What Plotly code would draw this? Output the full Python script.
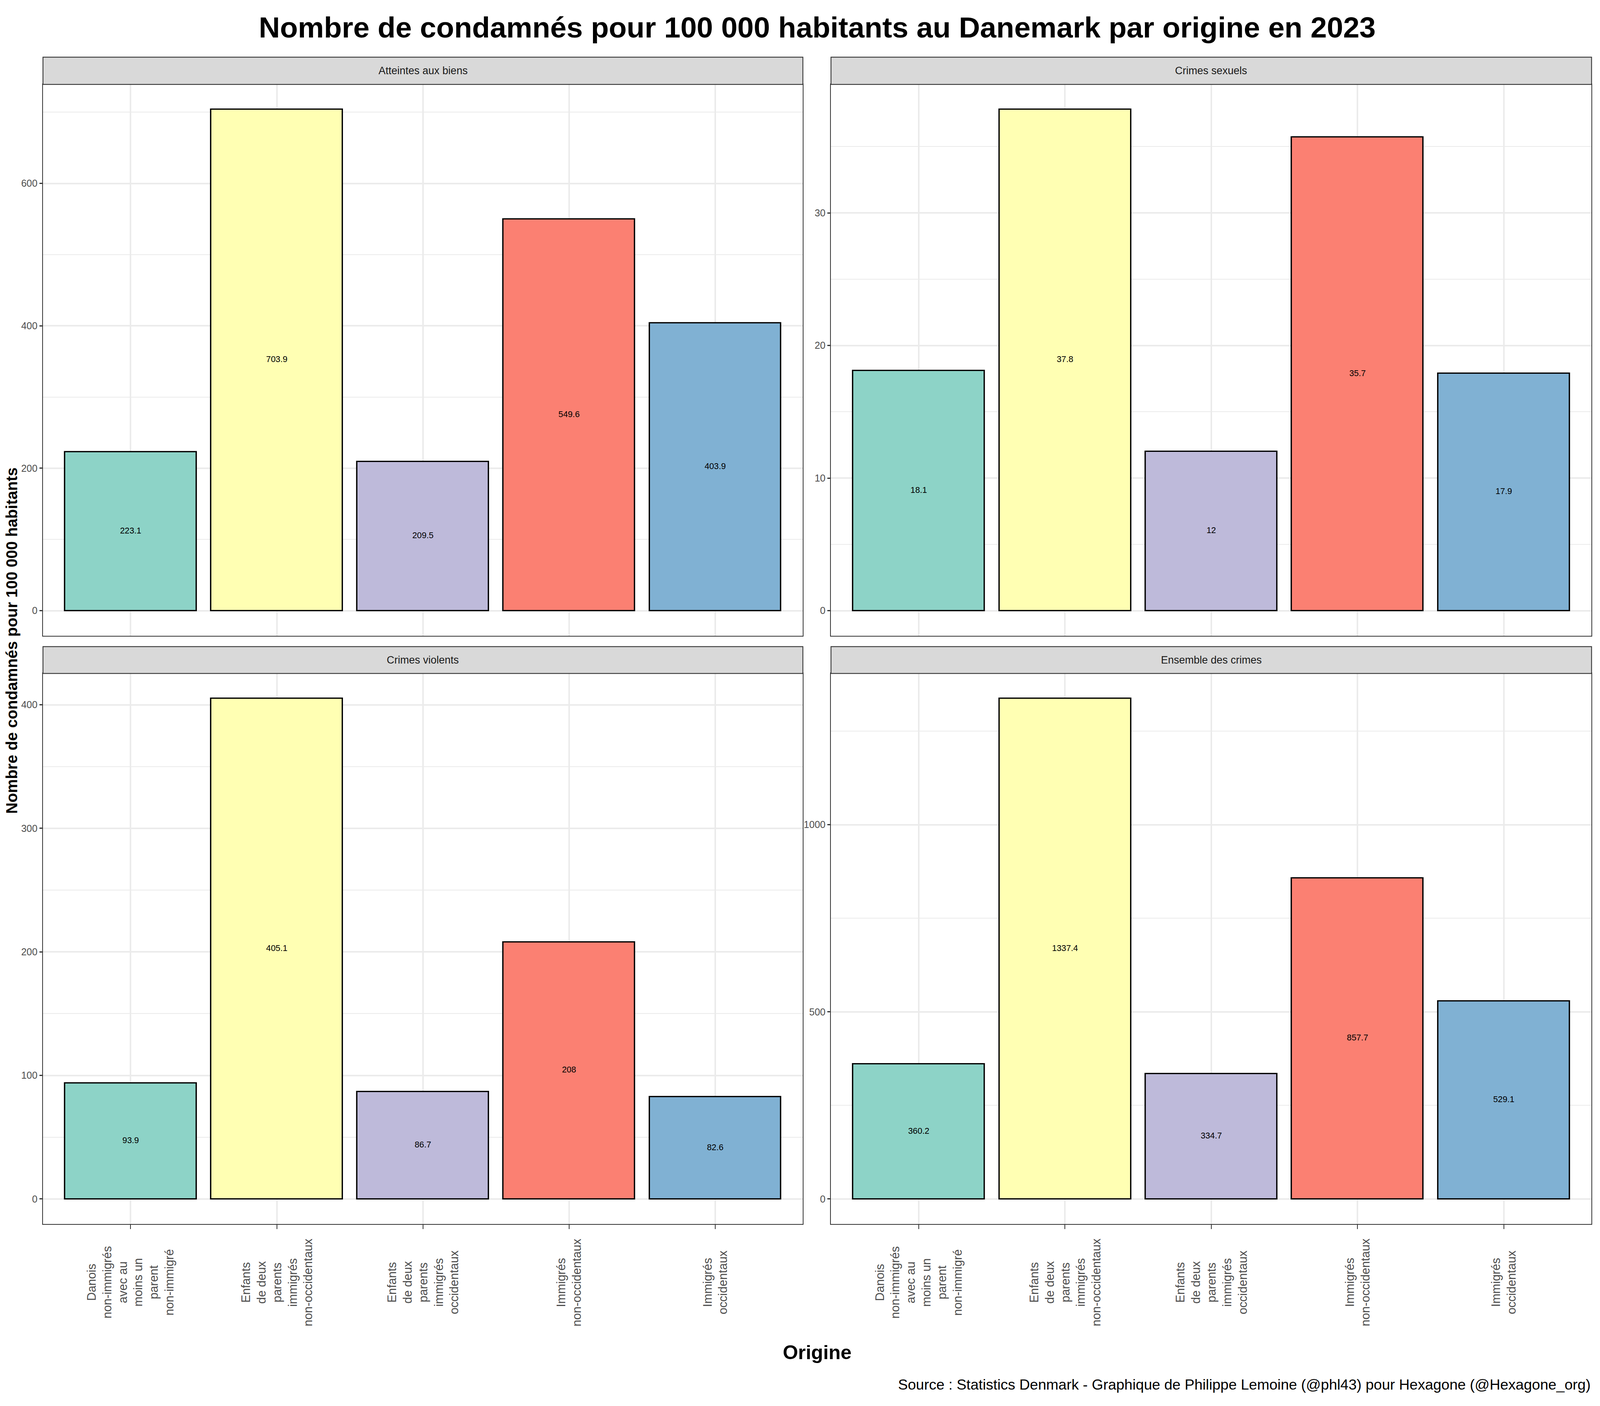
import plotly.graph_objects as go

# Data (Statistics Denmark, 2023) - convictions per 100 000 inhabitants
origines = [
    'Danois non-immigrés avec au moins un parent non-immigré',
    'Enfants de deux parents immigrés non-occidentaux',
    'Enfants de deux parents immigrés occidentaux',
    'Immigrés non-occidentaux',
    'Immigrés occidentaux',
]
tick_labels = [
    'Danois<br>non-immigrés<br>avec au<br>moins un<br>parent<br>non-immigré',
    'Enfants<br>de deux<br>parents<br>immigrés<br>non-occidentaux',
    'Enfants<br>de deux<br>parents<br>immigrés<br>occidentaux',
    'Immigrés<br>non-occidentaux',
    'Immigrés<br>occidentaux',
]
atteintes_biens = [223.1, 703.9, 209.5, 549.6, 403.9]
crimes_sexuels = [18.1, 37.8, 12, 35.7, 17.9]
crimes_violents = [93.9, 405.1, 86.7, 208, 82.6]
ensemble_crimes = [360.2, 1337.4, 334.7, 857.7, 529.1]

panel_titles = ['Atteintes aux biens', 'Crimes sexuels', 'Crimes violents', 'Ensemble des crimes']
panel_values = [atteintes_biens, crimes_sexuels, crimes_violents, ensemble_crimes]
panel_dticks = [200, 10, 100, 500]

# Set3 palette
colors = ['#8DD3C7', '#FFFFB3', '#BEBADA', '#FB8072', '#80B1D3']

# The browser viewport turns out to be ~4096 x 3600, so the figure fills it
# and keeps the reference layout in paper fractions.
RW, RH = 7200, 3600          # reference pixel grid used for measurements
W, H = 4080, 3584
SF = 0.75                    # font scale for horizontal text
SR = 0.85                    # font scale for rotated text
FONT = 'Liberation Sans'

# panel geometry (reference pixels -> paper)
x_doms = [[180 / RW, 3613 / RW], [3740 / RW, 7176 / RW]]
y_doms = [[1 - 1627 / RH, 1 - 209 / RH], [1 - 3140 / RH, 1 - 1724 / RH]]
strip_y = [[1 - 209 / RH, 1 - 139 / RH], [1 - 1724 / RH, 1 - 1655 / RH]]

fig = go.Figure()
layout = {}
shapes = []
annotations = []

for i, (title, vals, dt) in enumerate(zip(panel_titles, panel_values, panel_dticks)):
    row, col = divmod(i, 2)
    n = i + 1
    xa = 'x' if n == 1 else f'x{n}'
    ya = 'y' if n == 1 else f'y{n}'

    fig.add_trace(go.Bar(
        x=origines, y=vals, xaxis=xa, yaxis=ya,
        width=0.9,
        marker=dict(color=colors, line=dict(color='black', width=3.4)),
        showlegend=False, hoverinfo='skip',
    ))
    fig.add_trace(go.Scatter(
        x=origines, y=[v / 2 for v in vals], xaxis=xa, yaxis=ya,
        mode='text', text=[f'{v:g}' for v in vals],
        textfont=dict(family=FONT, size=29 * SF, color='black'),
        showlegend=False, hoverinfo='skip',
    ))

    ymax = max(vals)
    bottom_row = row == 1
    layout['xaxis' if n == 1 else f'xaxis{n}'] = dict(
        domain=x_doms[col], anchor=ya,
        type='category', categoryorder='array', categoryarray=origines,
        range=[-0.6, 4.6],
        showgrid=True, gridcolor='#EBEBEB', gridwidth=3.5,
        showline=True, mirror=True, linecolor='#333333', linewidth=2.2,
        ticks='outside' if bottom_row else '', ticklen=11, tickwidth=2.2, tickcolor='#333333',
        showticklabels=False, zeroline=False,
    )
    layout['yaxis' if n == 1 else f'yaxis{n}'] = dict(
        domain=y_doms[row], anchor=xa,
        range=[-0.05 * ymax, 1.05 * ymax],
        tickmode='linear', tick0=0, dtick=dt,
        showgrid=True, gridcolor='#EBEBEB', gridwidth=4,
        minor=dict(tick0=0, dtick=dt / 2, showgrid=True, gridcolor='#EBEBEB', gridwidth=2),
        showline=True, mirror=True, linecolor='#333333', linewidth=2.2,
        ticks='outside', ticklen=7, tickwidth=2.5, tickcolor='#333333',
        tickfont=dict(family=FONT, size=25, color='#4D4D4D'),
        zeroline=False,
    )

    # facet strip
    shapes.append(dict(
        type='rect', xref='paper', yref='paper',
        x0=x_doms[col][0], x1=x_doms[col][1], y0=strip_y[row][0], y1=strip_y[row][1],
        fillcolor='#D9D9D9', line=dict(color='#333333', width=2.2), layer='above',
    ))
    annotations.append(dict(
        xref='paper', yref='paper',
        x=sum(x_doms[col]) / 2, y=sum(strip_y[row]) / 2,
        text=title, showarrow=False, xanchor='center', yanchor='middle',
        font=dict(family=FONT, size=36 * SF, color='#1A1A1A'),
    ))

    # rotated x tick labels on the bottom row
    if bottom_row:
        for cat, lab in zip(origines, tick_labels):
            annotations.append(dict(
                xref=xa, yref='paper', x=cat, y=1 - 3290 / RH,
                text=lab, textangle=-90, showarrow=False, align='center',
                xanchor='center', yanchor='middle',
                font=dict(family=FONT, size=36 * SR, color='#4D4D4D'),
            ))

# axis titles and source
annotations.append(dict(
    xref='paper', yref='paper', x=22 / W, y=1 - 1640 / RH,
    text='<b>Nombre de condamnés pour 100 000 habitants</b>', textangle=-90,
    showarrow=False, xanchor='center', yanchor='middle',
    font=dict(family=FONT, size=40, color='black'),
))
annotations.append(dict(
    xref='paper', yref='paper', x=3678 / RW, y=1 - 3470 / RH,
    text='<b>Origine</b>', showarrow=False, xanchor='center', yanchor='middle',
    font=dict(family=FONT, size=67 * SF, color='black'),
))
annotations.append(dict(
    xref='paper', yref='paper', x=7176 / RW, y=1 - 3553 / RH,
    text='Source : Statistics Denmark - Graphique de Philippe Lemoine (@phl43) pour Hexagone (@Hexagone_org)',
    showarrow=False, xanchor='right', yanchor='middle',
    font=dict(family=FONT, size=50 * SF, color='black'),
))

fig.update_layout(
    **layout,
    shapes=shapes,
    annotations=annotations,
    title=dict(
        text='<b>Nombre de condamnés pour 100 000 habitants au Danemark par origine en 2023</b>',
        x=3678 / RW, y=1 - 62 / RH, xanchor='center', yanchor='middle',
        font=dict(family=FONT, size=100 * SF, color='black'),
    ),
    width=W, height=H,
    margin=dict(l=0, r=0, t=0, b=0),
    paper_bgcolor='white', plot_bgcolor='white',
    bargap=0,
)

fig.write_html('out.html')
